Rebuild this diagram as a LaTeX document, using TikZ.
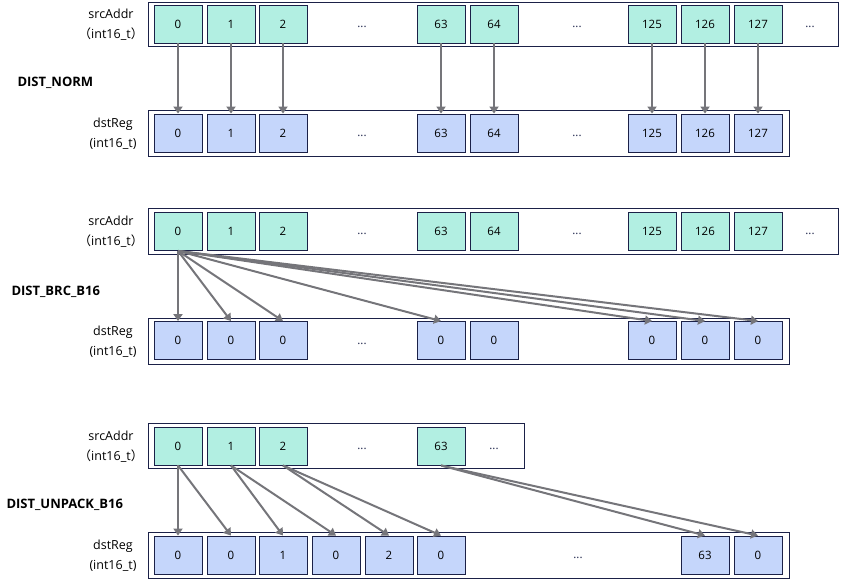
\documentclass[tikz,border=0pt]{standalone}
\usepackage{fontspec}
\setmainfont{Open Sans}
\newfontfamily\cjk{Noto Sans CJK SC}
\usetikzlibrary{arrows.meta, positioning}
\definecolor{srcmint}{RGB}{178,239,226}
\definecolor{dstblue}{RGB}{197,214,251}
\definecolor{framenavy}{RGB}{27,33,72}
\definecolor{arrowgray}{RGB}{117,117,122}

\begin{document}
\begin{tikzpicture}[x=1pt, y=-1pt,
  frame/.style={draw=framenavy, line width=0.9pt, fill=white, inner sep=0pt},
  srccell/.style={draw=framenavy, fill=srcmint, line width=0.9pt, minimum width=48pt, minimum height=38pt, inner sep=0pt, font=\fontsize{11.5}{13}\selectfont},
  dstcell/.style={srccell, fill=dstblue},
  dots/.style={font=\fontsize{11.5}{13}\selectfont, text=framenavy},
  regname/.style={align=center, font=\fontsize{12.5}{20}\selectfont},
  modename/.style={anchor=west, font=\fontsize{13}{14}\selectfont\bfseries},
  move/.style={draw=arrowgray, line width=2pt, -{Triangle[length=7pt, width=9pt]}}
]
  \useasboundingbox (0,0) rectangle (842,585);

  % DIST_NORM
  \node[modename] (normMode) at (14,83) {DIST\_NORM};
  \node[frame, minimum width=690pt, minimum height=44pt] (normSrc) at (493,24) {};
  \node[frame, minimum width=641pt, minimum height=46pt] (normDst) at (468.5,133) {};
  \node[regname] (normSrcName) at (111,25) {srcAddr\\{\cjk （}int16\_t{\cjk ）}};
  \node[regname] (normDstName) at (113,134) {dstReg\\(int16\_t)};
  \foreach \k/\t in {0/0,1/1,2/2,5/63,6/64,9/125,10/126,11/127} {
    \node[srccell] (normS\k) at ({178+round(52.7*\k)},24) {\t};
    \node[dstcell] (normD\k) at ({178+round(52.7*\k)},133) {\t};
  }
  \node[dots] (normSdotsA) at (362,27) {...};
  \node[dots] (normSdotsB) at (577,27) {...};
  \node[dots] (normSdotsC) at (810,27) {...};
  \node[dots] (normDdotsA) at (362,136) {...};
  \node[dots] (normDdotsB) at (577,136) {...};
  \foreach \k in {0,1,2,5,6,9,10,11}
    \draw[move] (normS\k.south) -- (normD\k.north);

  % DIST_BRC_B16
  \node[modename] (brcMode) at (8,292) {DIST\_BRC\_B16};
  \node[frame, minimum width=690pt, minimum height=46pt] (brcSrc) at (493,231) {};
  \node[frame, minimum width=641pt, minimum height=46pt] (brcDst) at (468.5,341) {};
  \node[regname] (brcSrcName) at (111,232) {srcAddr\\{\cjk （}int16\_t{\cjk ）}};
  \node[regname] (brcDstName) at (113,342) {dstReg\\(int16\_t)};
  \foreach \k/\t in {0/0,1/1,2/2,5/63,6/64,9/125,10/126,11/127} {
    \node[srccell] (brcS\k) at ({178+round(52.7*\k)},231.5) {\t};
    \node[dstcell] (brcD\k) at ({178+round(52.7*\k)},340.5) {0};
  }
  \node[dots] (brcSdotsA) at (362,234) {...};
  \node[dots] (brcSdotsB) at (577,234) {...};
  \node[dots] (brcSdotsC) at (810,234) {...};
  \node[dots] (brcDdotsA) at (362,344) {...};
  \foreach \k in {0,1,2,5,9,10,11}
    \draw[move] (brcS0.south) -- (brcD\k.north);

  % DIST_UNPACK_B16
  \node[modename] (unpMode) at (3,505) {DIST\_UNPACK\_B16};
  \node[frame, minimum width=376pt, minimum height=45pt] (unpSrc) at (336,445.5) {};
  \node[frame, minimum width=641pt, minimum height=46pt] (unpDst) at (468.5,555) {};
  \node[regname] (unpSrcName) at (111,447) {srcAddr\\{\cjk （}int16\_t{\cjk ）}};
  \node[regname] (unpDstName) at (113,556) {dstReg\\(int16\_t)};
  \foreach \k/\t in {0/0,1/1,2/2,5/63}
    \node[srccell] (unpS\k) at ({178+round(52.7*\k)},446) {\t};
  \foreach \k/\t in {0/0,1/0,2/1,3/0,4/2,5/0,10/63,11/0}
    \node[dstcell] (unpD\k) at ({178+round(52.7*\k)},555) {\t};
  \node[dots] (unpSdotsA) at (362,449) {...};
  \node[dots] (unpSdotsB) at (494,449) {...};
  \node[dots] (unpDdotsA) at (578,558) {...};
  \foreach \s/\d in {0/0,0/1,1/2,1/3,2/4,2/5,5/10,5/11}
    \draw[move] (unpS\s.south) -- (unpD\d.north);
\end{tikzpicture}
\end{document}
